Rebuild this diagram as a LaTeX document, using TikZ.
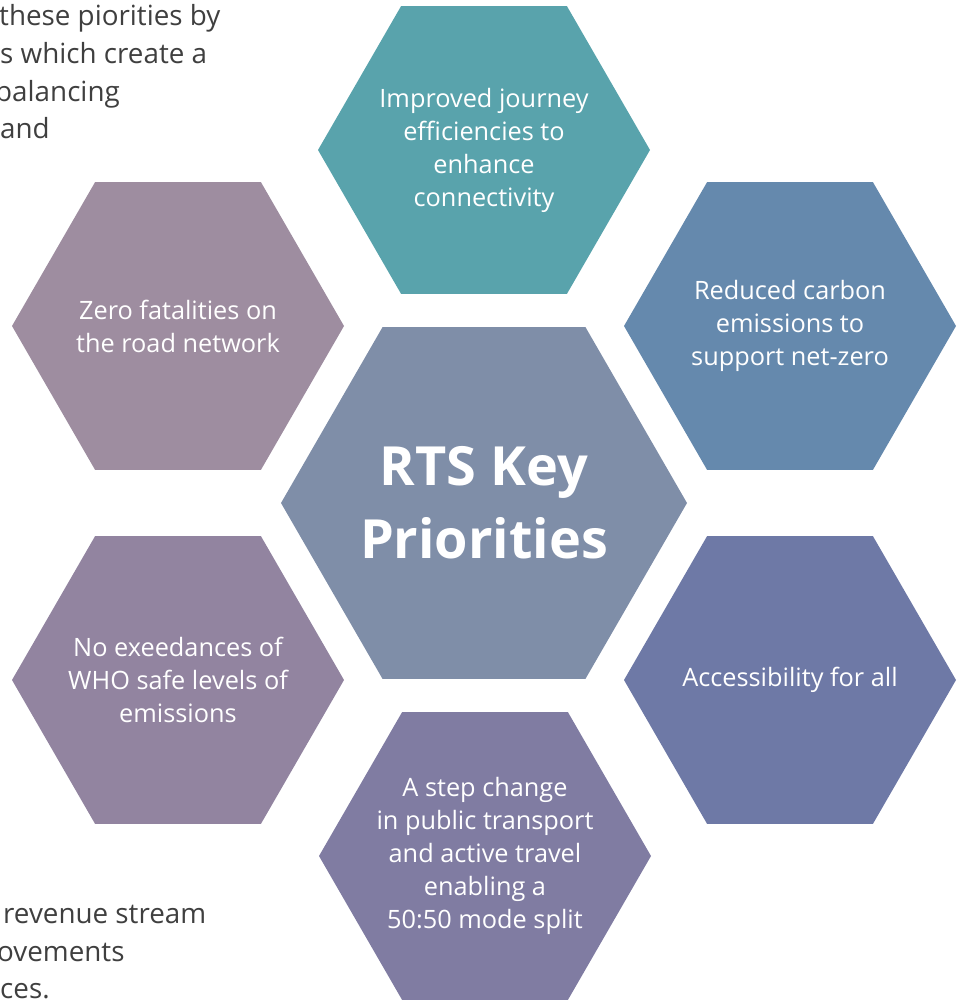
\documentclass[tikz,border=0pt]{standalone}
\usepackage{fontspec}
\setmainfont{Open Sans}
\usetikzlibrary{shapes.geometric}
\definecolor{hteal}{HTML}{59A3AC}
\definecolor{htr}{HTML}{6589AD}
\definecolor{hcenter}{HTML}{7F8EA8}
\definecolor{htl}{HTML}{9E8DA0}
\definecolor{hbl}{HTML}{9284A0}
\definecolor{hbot}{HTML}{807CA2}
\definecolor{hbr}{HTML}{6E79A6}
\definecolor{bodygray}{HTML}{3F3F3F}
\begin{document}
\begin{tikzpicture}[x=1pt,y=-1pt,
  hexa/.style={regular polygon, regular polygon sides=6, minimum size=332pt, inner sep=0pt, outer sep=0pt, draw=none},
  hextext/.style={text=white, align=center, font=\fontsize{25.3}{33}\selectfont, inner sep=0pt},
  titletext/.style={text=white, align=center, font=\bfseries\fontsize{54}{73}\selectfont, inner sep=0pt},
  bodytext/.style={text=bodygray, anchor=base west, font=\fontsize{27.8}{37.5}\selectfont, inner sep=0pt}]
\path[use as bounding box] (0,0) rectangle (959,1001);
\clip (0,0) rectangle (959,1001);
% hexagons
\node[hexa, fill=hteal] (top) at (484,150) {};
\node[hexa, fill=htr] (tr) at (790,326) {};
\node[hexa, fill=hbr] (br) at (790,680) {};
\node[hexa, fill=hbot] (bot) at (485,856) {};
\node[hexa, fill=hbl] (bl) at (178,680) {};
\node[hexa, fill=htl] (tl) at (178,326) {};
\node[hexa, fill=hcenter, minimum size=406pt] (ctr) at (484,503) {};
% texts
\node[hextext] (ttop) at (top) {Improved journey\\efficiencies to\\enhance\\connectivity};
\node[hextext] (ttr) at (tr) {Reduced carbon\\emissions to\\support net-zero};
\node[hextext] (tbr) at (br) {Accessibility for all};
\node[hextext] (tbot) at (bot) {A step change\\in public transport\\and active travel\\enabling a\\50:50 mode split};
\node[hextext] (tbl) at (bl) {No exeedances of\\WHO safe levels of\\emissions};
\node[hextext] (ttl) at (tl) {Zero fatalities on\\the road network};
\node[titletext] (tctr) at (ctr) {RTS Key\\Priorities};
% cut-off body text
\node[bodytext] (b1) at (-1,25) {these piorities by};
\node[bodytext] (b2) at (0,63) {s which create a};
\node[bodytext] (b3) at (-5,101) {balancing};
\node[bodytext] (b4) at (0,138) {and};
\node[bodytext] (b5) at (3,923) {revenue stream};
\node[bodytext] (b6) at (-3,961) {ovements};
\node[bodytext] (b7) at (0,998) {ces.};
\end{tikzpicture}
\end{document}
